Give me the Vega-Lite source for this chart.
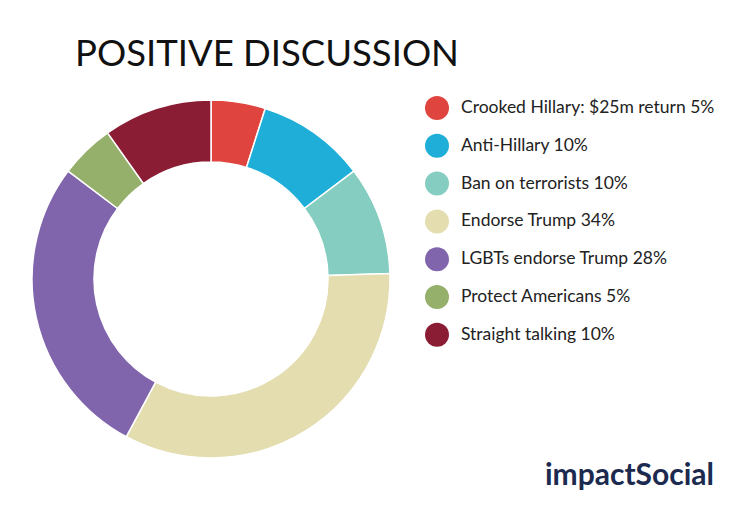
{
  "$schema": "https://vega.github.io/schema/vega-lite/v6.json",
  "width": 358,
  "height": 358,
  "autosize": {"type": "none"},
  "padding": {"left": 32, "top": 100, "right": 346, "bottom": 67},
  "background": "white",
  "title": {
    "text": "POSITIVE DISCUSSION",
    "anchor": "start",
    "frame": "group",
    "dx": 43,
    "offset": 23,
    "font": "Lato",
    "fontSize": 36.5,
    "fontWeight": "normal",
    "color": "#111111"
  },
  "data": {
    "values": [
      {"topic": "Crooked Hillary: $25m return 5%", "share": 5, "order": 1},
      {"topic": "Anti-Hillary 10%", "share": 10, "order": 2},
      {"topic": "Ban on terrorists 10%", "share": 10, "order": 3},
      {"topic": "Endorse Trump 34%", "share": 34, "order": 4},
      {"topic": "LGBTs endorse Trump 28%", "share": 28, "order": 5},
      {"topic": "Protect Americans 5%", "share": 5, "order": 6},
      {"topic": "Straight talking 10%", "share": 10, "order": 7}
    ]
  },
  "mark": {"type": "arc", "innerRadius": 117, "stroke": "white", "strokeWidth": 1.5},
  "encoding": {
    "theta": {"field": "share", "type": "quantitative", "stack": true},
    "order": {"field": "order", "type": "quantitative"},
    "color": {
      "field": "topic",
      "type": "nominal",
      "sort": {"field": "order"},
      "scale": {
        "domain": ["Crooked Hillary: $25m return 5%", "Anti-Hillary 10%", "Ban on terrorists 10%", "Endorse Trump 34%", "LGBTs endorse Trump 28%", "Protect Americans 5%", "Straight talking 10%"],
        "range": ["#E0443E", "#1EAED8", "#84CDC0", "#E4DDB0", "#8064AC", "#95B06A", "#8A1C33"]
      },
      "legend": {
        "title": "impactSocial",
        "orient": "none",
        "legendX": 393,
        "legendY": -4,
        "padding": 0,
        "symbolType": "circle",
        "symbolSize": 576,
        "symbolStrokeWidth": 0,
        "symbolOpacity": 1,
        "rowPadding": 13.8,
        "labelOffset": 12,
        "labelFont": "Lato",
        "labelFontSize": 17.5,
        "labelColor": "#222222",
        "labelLimit": 400,
        "titleOrient": "bottom",
        "titleAnchor": "end",
        "titlePadding": 114,
        "titleFont": "Lato",
        "titleFontSize": 30,
        "titleFontWeight": "bold",
        "titleColor": "#1B2A4E",
        "titleLimit": 400
      }
    }
  },
  "config": {"view": {"stroke": null}}
}
